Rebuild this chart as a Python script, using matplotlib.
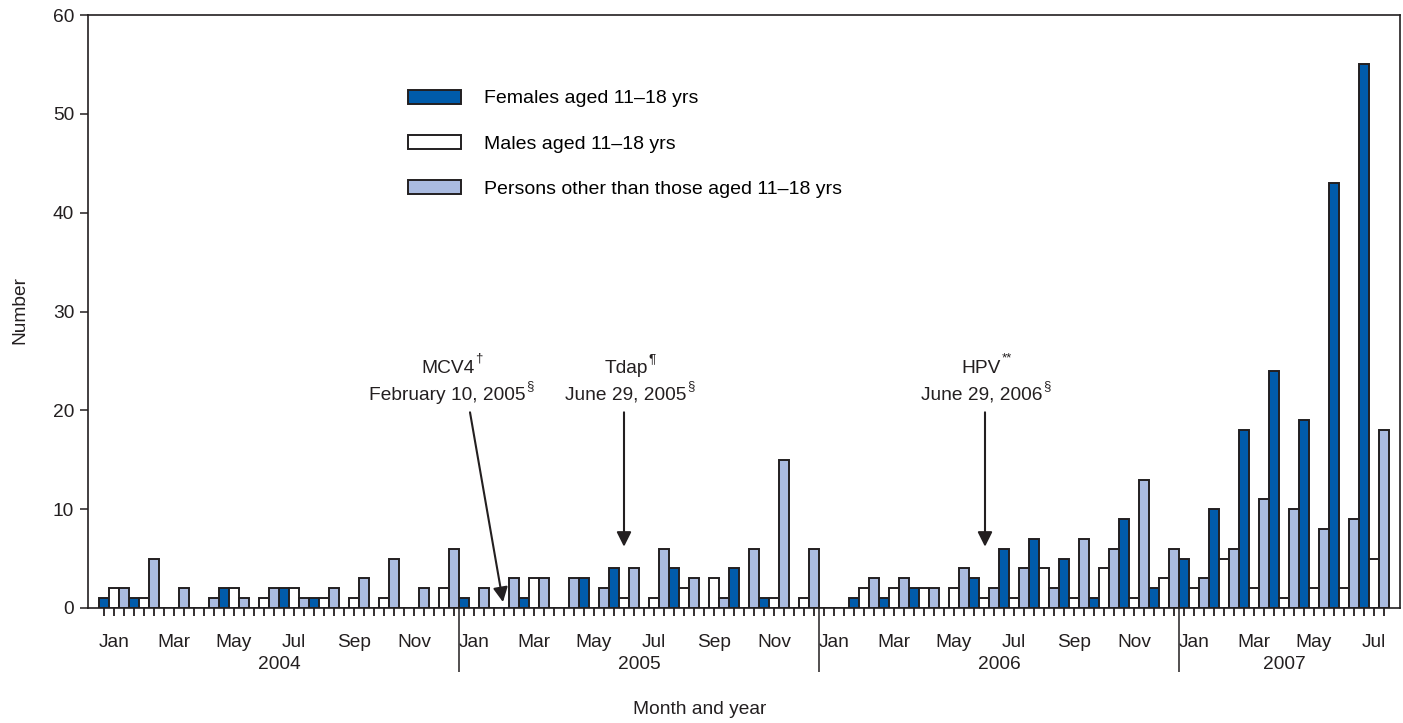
import numpy as np
import matplotlib
matplotlib.use("Agg")
import matplotlib.pyplot as plt
from matplotlib.ticker import FixedLocator, NullFormatter

plt.rcParams['font.family'] = ['Liberation Sans', 'DejaVu Sans']

month_names = ["Jan", "Feb", "Mar", "Apr", "May", "Jun",
               "Jul", "Aug", "Sep", "Oct", "Nov", "Dec"]
years = ["2004", "2005", "2006", "2007"]
months_per_year = [12, 12, 12, 7]

# Jan 2004 .. Jul 2007
females = [1, 1, 0, 0, 2, 0, 2, 1, 0, 0, 0, 0,
           1, 0, 1, 0, 3, 4, 0, 4, 0, 4, 1, 0,
           0, 1, 1, 2, 0, 3, 6, 7, 5, 1, 9, 2,
           5, 10, 18, 24, 19, 43, 55]
males = [2, 1, 0, 0, 2, 1, 2, 1, 1, 1, 0, 2,
         0, 0, 3, 0, 0, 1, 1, 2, 3, 0, 1, 1,
         0, 2, 2, 2, 2, 1, 1, 4, 1, 4, 1, 3,
         2, 5, 2, 1, 2, 2, 5]
others = [2, 5, 2, 1, 1, 2, 1, 2, 3, 5, 2, 6,
          2, 3, 3, 3, 2, 4, 6, 3, 1, 6, 15, 6,
          0, 3, 3, 2, 4, 2, 4, 2, 7, 6, 13, 6,
          3, 6, 11, 10, 8, 9, 18]

series_labels = ["Females aged 11\u201318 yrs", "Males aged 11\u201318 yrs",
                 "Persons other than those aged 11\u201318 yrs"]
colors = ["#005BAA", "#FFFFFF", "#AABBE0"]
edge = "#231F20"

FS = 13.8

fig = plt.figure(figsize=(14.03, 7.23), dpi=100)
ax = fig.add_axes([88 / 1403, 1 - 608 / 723, 1312 / 1403, 593 / 723])

n = len(females)
base = np.arange(n) * 3
handles = []
for k, (vals, c, lab) in enumerate(zip([females, males, others], colors, series_labels)):
    h = ax.bar(base + k + 0.5, vals, width=1.0, color=c, edgecolor=edge,
               linewidth=1.4, label=lab, zorder=2)
    handles.append(h)

ax.set_xlim(-1.1, 130.1)
ax.set_ylim(0, 60)
ax.set_yticks(range(0, 61, 10))
ax.tick_params(axis='y', direction='out', length=6, width=1.1, colors=edge,
               labelsize=FS, labelcolor='#231F20', pad=4)

# year separators as long major ticks, one small tick per bar
year_edges = np.cumsum(months_per_year)[:-1] * 3
ax.xaxis.set_major_locator(FixedLocator(year_edges))
ax.xaxis.set_major_formatter(NullFormatter())
ax.xaxis.set_minor_locator(FixedLocator(np.arange(n * 3) + 0.5))
ax.tick_params(axis='x', which='major', direction='out', length=46, width=1.1, colors=edge)
ax.tick_params(axis='x', which='minor', direction='out', length=6, width=1.3, colors=edge)

for s in ax.spines.values():
    s.set_linewidth(1.2)
    s.set_color(edge)

# month labels
for m in range(n):
    if m % 2 == 0:
        ax.annotate(month_names[m % 12], xy=(m * 3 + 1.5, 0),
                    xycoords=('data', 'axes fraction'), xytext=(0, -24.5),
                    textcoords='offset points', ha='center', va='center',
                    fontsize=FS, color='#231F20')

# year labels
start = 0
for y, cnt in zip(years, months_per_year):
    center = (start + start + cnt * 3) / 2
    ax.annotate(y, xy=(center, 0), xycoords=('data', 'axes fraction'),
                xytext=(0, -40.5), textcoords='offset points', ha='center',
                va='center', fontsize=FS, color='#231F20')
    start += cnt * 3

fig.text(20 / 1403, 1 - 310 / 723, "Number", rotation=90, ha='center',
         va='center', fontsize=FS, color='#231F20')
fig.text(700 / 1403, 1 - 710 / 723, "Month and year", ha='center',
         va='center', fontsize=FS, color='#231F20')

ax.legend(handles=handles, loc='upper left', bbox_to_anchor=(0.244, 0.874),
          frameon=False, fontsize=14, handlelength=2.7, handleheight=0.72,
          handletextpad=1.2, labelspacing=1.42, borderpad=0, borderaxespad=0)

# vaccine annotations
notes = [
    ("MCV4", "\u2020", "February 10, 2005", "\u00a7", 34.85, (37.1, 19.8), (40.4, 0.6)),
    ("Tdap", "\u00b6", "June 29, 2005", "\u00a7", 52.7, (52.5, 19.8), (52.5, 6.2)),
    ("HPV", "**", "June 29, 2006", "\u00a7", 88.25, (88.6, 19.8), (88.6, 6.2)),
]
for l1, s1, l2, s2, xc, p0, p1 in notes:
    t1 = ax.text(xc, 23.78, l1, ha='center', va='baseline', fontsize=FS, color='#231F20')
    t2 = ax.text(xc, 21.05, l2, ha='center', va='baseline', fontsize=FS, color='#231F20')
    ax.annotate(s1, xy=(1, 0.72), xycoords=t1, xytext=(0.5, 0), textcoords='offset points',
                ha='left', va='bottom', fontsize=9.5, color='#231F20')
    ax.annotate(s2, xy=(1, 0.72), xycoords=t2, xytext=(0.5, 0), textcoords='offset points',
                ha='left', va='bottom', fontsize=9.5, color='#231F20')
    ax.annotate('', xy=p1, xytext=p0,
                arrowprops=dict(arrowstyle='-|>', color=edge, lw=1.5,
                                mutation_scale=22, shrinkA=0, shrinkB=0))

fig.savefig("out.png", dpi=100)
